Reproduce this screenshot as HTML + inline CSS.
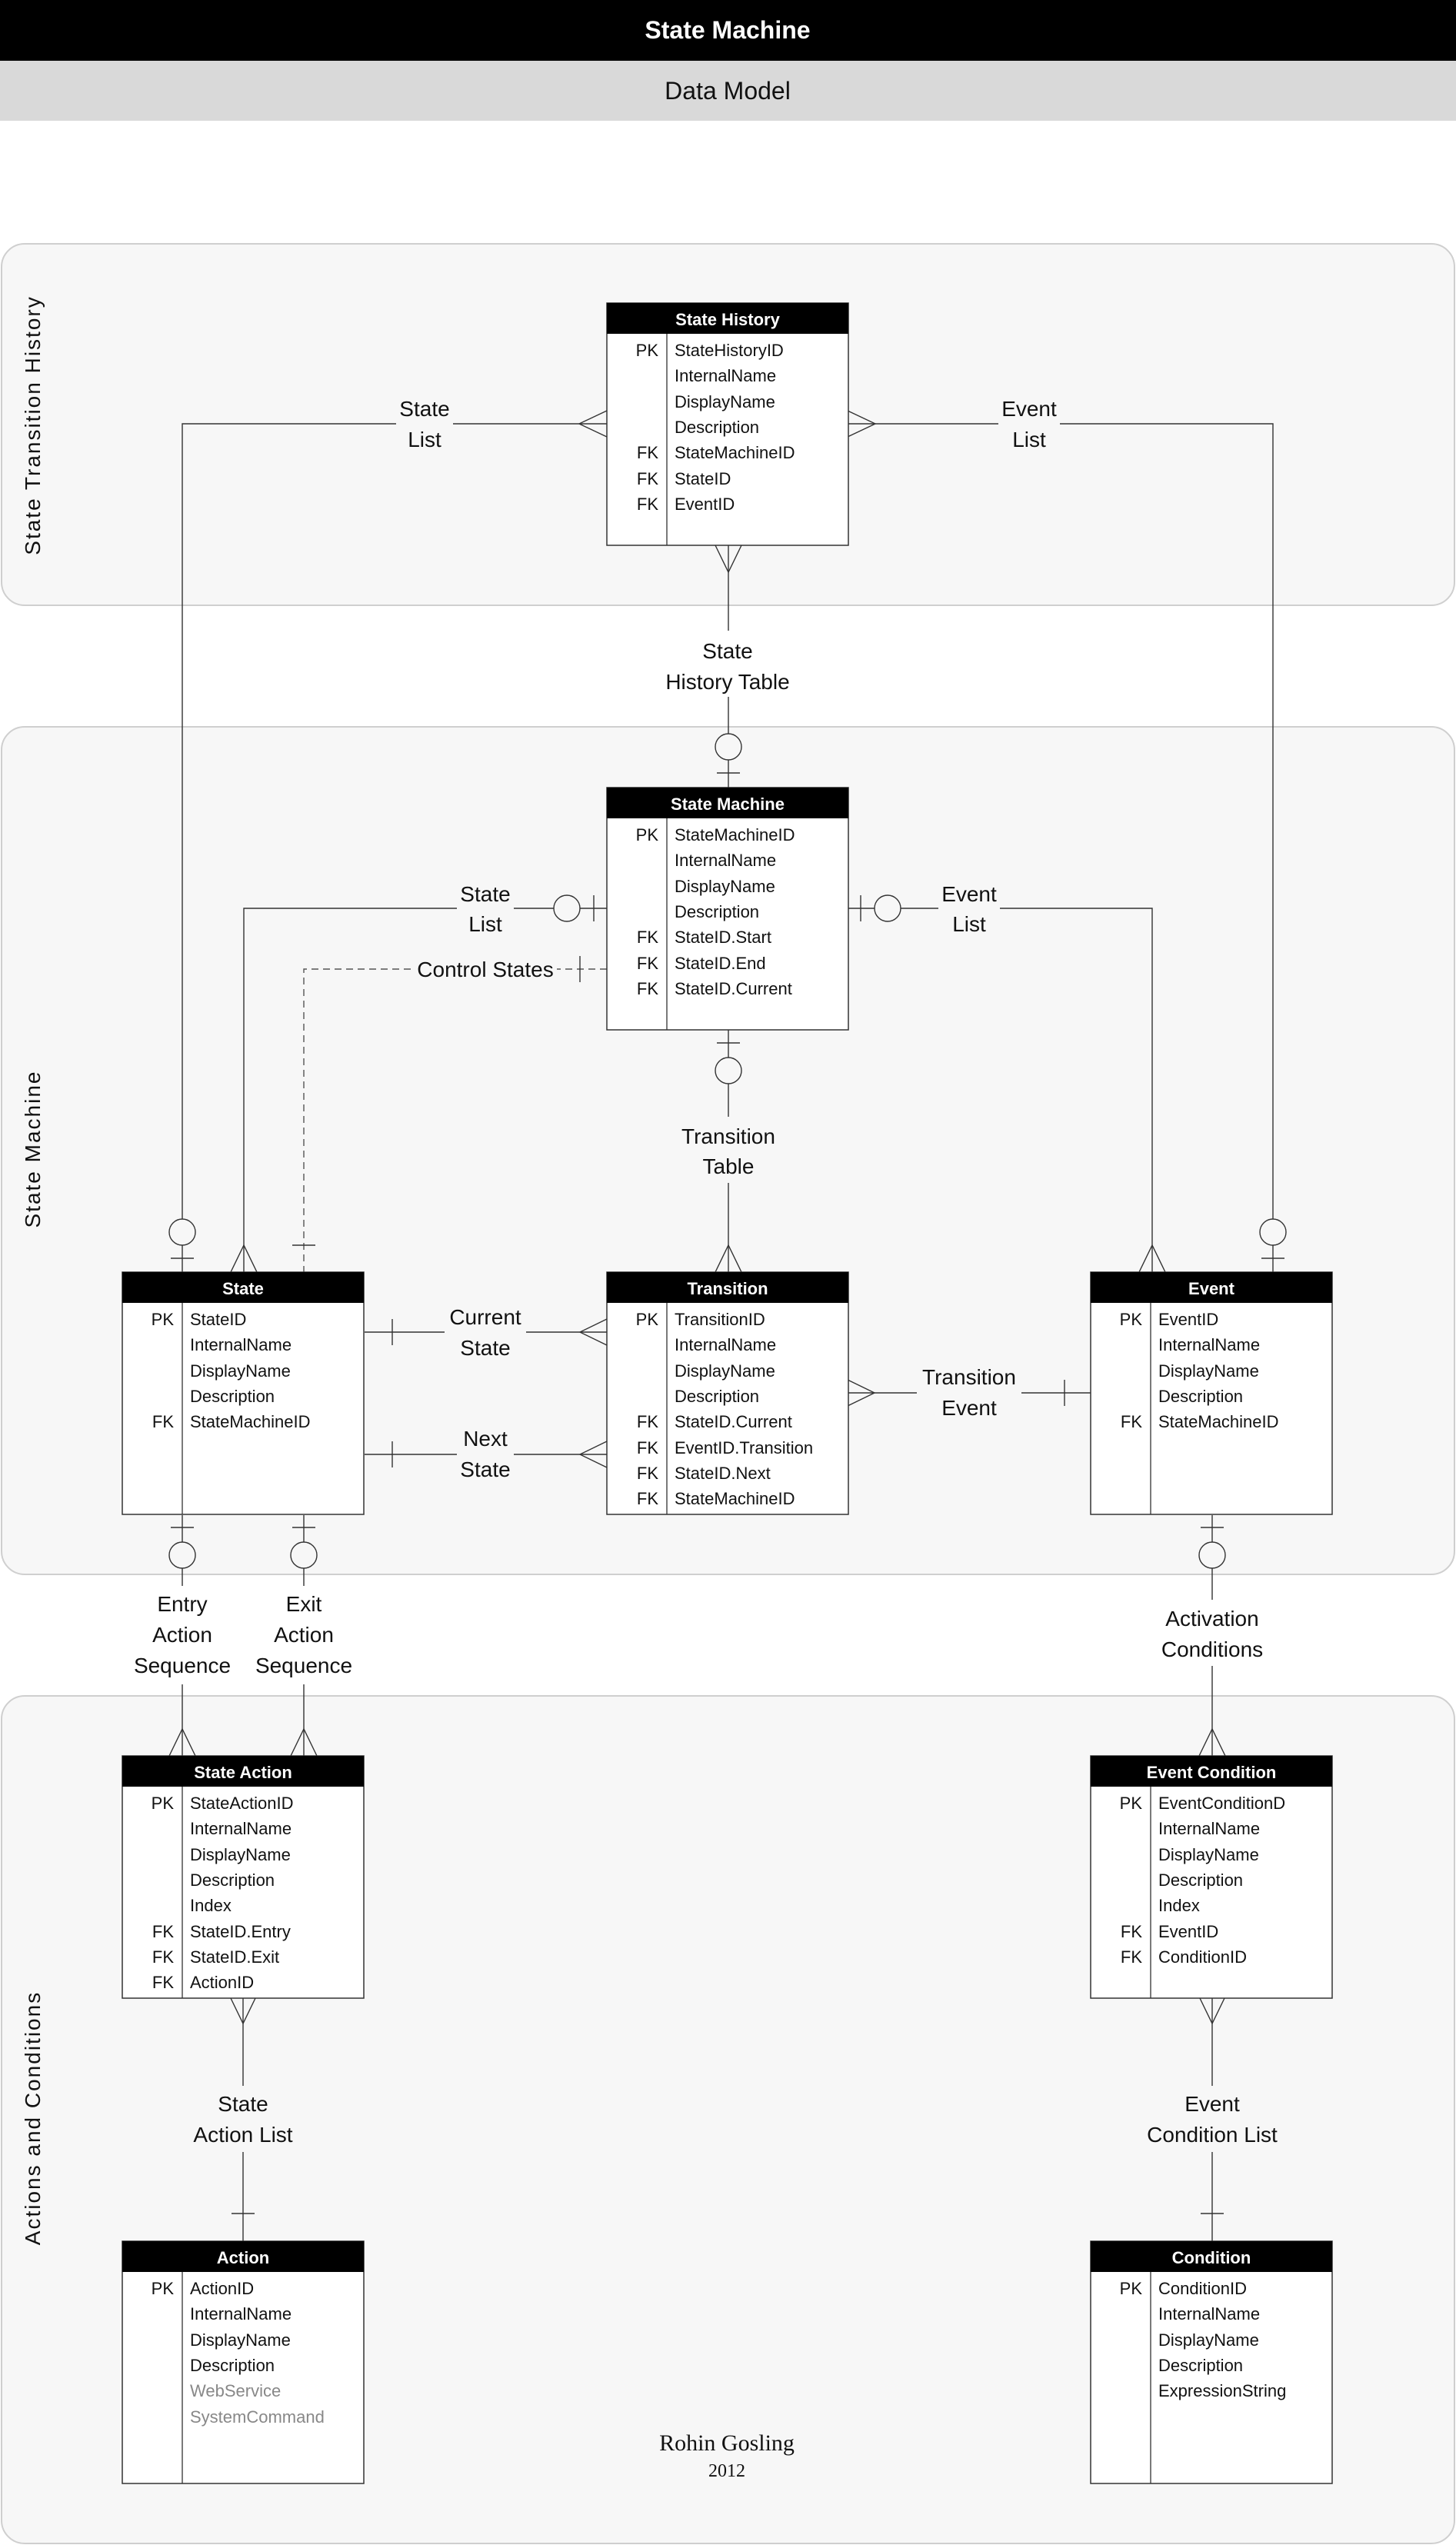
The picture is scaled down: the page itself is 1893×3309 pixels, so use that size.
<!DOCTYPE html>
<html><head><meta charset="utf-8"><style>
html,body{margin:0;padding:0;background:#fff}
svg{display:block}
text{font-family:"Liberation Sans",sans-serif}
text.serif{font-family:"Liberation Serif",serif}
</style></head><body>
<svg width="1893" height="3309" viewBox="0 0 1893 3309" xmlns="http://www.w3.org/2000/svg">
<rect x="0" y="0" width="1893" height="79" fill="#000"/>
<text x="946" y="50" font-size="32" font-weight="bold" fill="#fff" text-anchor="middle">State Machine</text>
<rect x="0" y="79" width="1893" height="78" fill="#d9d9d9"/>
<text x="946" y="129" font-size="32" fill="#111" text-anchor="middle">Data Model</text>

<rect x="2" y="317" width="1889" height="470" rx="30" fill="#f7f7f7" stroke="#cfcfcf" stroke-width="2"/>
<rect x="2" y="945" width="1889" height="1102" rx="30" fill="#f7f7f7" stroke="#cfcfcf" stroke-width="2"/>
<rect x="2" y="2205" width="1889" height="1102" rx="30" fill="#f7f7f7" stroke="#cfcfcf" stroke-width="2"/>

<g font-size="28" letter-spacing="2" fill="#111" text-anchor="middle">
<text transform="translate(52,553) rotate(-90)">State Transition History</text>
<text transform="translate(52,1494) rotate(-90)">State Machine</text>
<text transform="translate(52,2754) rotate(-90)">Actions and Conditions</text>
</g>

<g stroke="#333" stroke-width="1.4" fill="none">
<path d="M789,551 H237 V1654"/>
<path d="M789,534 L753,551 L789,568"/>
<circle cx="237" cy="1602" r="17" fill="#f7f7f7"/>
<path d="M222,1636 H252"/>
<path d="M1102,551 H1655 V1654"/>
<path d="M1102,534 L1138,551 L1102,568"/>
<circle cx="1655" cy="1602" r="17" fill="#f7f7f7"/>
<path d="M1640,1636 H1670"/>
<path d="M947,709 V1024"/>
<path d="M930,709 L947,744 L964,709"/>
<circle cx="947" cy="971" r="17" fill="#f7f7f7"/>
<path d="M932,1005 H962"/>
<path d="M789,1181 H317 V1654"/>
<path d="M772,1164 V1198"/>
<circle cx="737" cy="1181" r="17" fill="#f7f7f7"/>
<path d="M300,1654 L317,1619 L334,1654"/>
<path d="M789,1260 H395 V1654" stroke-dasharray="9,6" stroke="#555"/>
<path d="M754,1243 V1277"/>
<path d="M380,1619 H410"/>
<path d="M1102,1181 H1498 V1654"/>
<path d="M1119,1164 V1198"/>
<circle cx="1154" cy="1181" r="17" fill="#f7f7f7"/>
<path d="M1481,1654 L1498,1619 L1515,1654"/>
<path d="M947,1339 V1654"/>
<path d="M932,1356 H962"/>
<circle cx="947" cy="1392" r="17" fill="#f7f7f7"/>
<path d="M930,1654 L947,1619 L964,1654"/>
<path d="M474,1732 H789"/>
<path d="M510,1715 V1749"/>
<path d="M789,1715 L754,1732 L789,1749"/>
<path d="M474,1891 H789"/>
<path d="M510,1874 V1908"/>
<path d="M789,1874 L754,1891 L789,1908"/>
<path d="M1102,1811 H1418"/>
<path d="M1102,1794 L1137,1811 L1102,1828"/>
<path d="M1384,1794 V1828"/>
<path d="M237,1970 V2283"/>
<path d="M222,1986 H252"/>
<circle cx="237" cy="2022" r="17" fill="#f7f7f7"/>
<path d="M220,2283 L237,2248 L254,2283"/>
<path d="M395,1970 V2283"/>
<path d="M380,1986 H410"/>
<circle cx="395" cy="2022" r="17" fill="#f7f7f7"/>
<path d="M378,2283 L395,2248 L412,2283"/>
<path d="M1576,1970 V2283"/>
<path d="M1561,1986 H1591"/>
<circle cx="1576" cy="2022" r="17" fill="#f7f7f7"/>
<path d="M1559,2283 L1576,2248 L1593,2283"/>
<path d="M316,2596 V2914"/>
<path d="M299,2596 L316,2631 L333,2596"/>
<path d="M301,2878 H331"/>
<path d="M1576,2596 V2914"/>
<path d="M1559,2596 L1576,2631 L1593,2596"/>
<path d="M1561,2878 H1591"/>
</g>

<g font-size="28" fill="#111" text-anchor="middle">
<rect x="515" y="508" width="74" height="86" fill="#f7f7f7"/>
<text x="552" y="541">State</text><text x="552" y="581">List</text>
<rect x="1298" y="508" width="80" height="86" fill="#f7f7f7"/>
<text x="1338" y="541">Event</text><text x="1338" y="581">List</text>
<rect x="855" y="820" width="184" height="86" fill="#fff"/>
<text x="946" y="856">State</text><text x="946" y="896">History Table</text>
<rect x="594" y="1140" width="74" height="86" fill="#f7f7f7"/>
<text x="631" y="1172">State</text><text x="631" y="1211">List</text>
<rect x="538" y="1240" width="186" height="40" fill="#f7f7f7"/>
<text x="631" y="1270">Control States</text>
<rect x="1220" y="1140" width="80" height="86" fill="#f7f7f7"/>
<text x="1260" y="1172">Event</text><text x="1260" y="1211">List</text>
<rect x="880" y="1452" width="134" height="86" fill="#f7f7f7"/>
<text x="947" y="1487">Transition</text><text x="947" y="1526">Table</text>
<rect x="578" y="1690" width="106" height="86" fill="#f7f7f7"/>
<text x="631" y="1722">Current</text><text x="631" y="1762">State</text>
<rect x="594" y="1848" width="74" height="86" fill="#f7f7f7"/>
<text x="631" y="1880">Next</text><text x="631" y="1920">State</text>
<rect x="1192" y="1770" width="136" height="86" fill="#f7f7f7"/>
<text x="1260" y="1800">Transition</text><text x="1260" y="1840">Event</text>
<rect x="178" y="2062" width="270" height="128" fill="#fff"/>
<text x="237" y="2095">Entry</text><text x="237" y="2135">Action</text><text x="237" y="2175">Sequence</text>
<text x="395" y="2095">Exit</text><text x="395" y="2135">Action</text><text x="395" y="2175">Sequence</text>
<rect x="1504" y="2080" width="144" height="86" fill="#fff"/>
<text x="1576" y="2114">Activation</text><text x="1576" y="2154">Conditions</text>
<rect x="240" y="2712" width="152" height="86" fill="#f7f7f7"/>
<text x="316" y="2745">State</text><text x="316" y="2785">Action List</text>
<rect x="1480" y="2712" width="192" height="86" fill="#f7f7f7"/>
<text x="1576" y="2745">Event</text><text x="1576" y="2785">Condition List</text>
</g>

<defs>
<g id="tbl">
<rect x="0" y="0" width="314" height="315" fill="#fff" stroke="#333" stroke-width="1.5"/>
<rect x="0" y="0" width="314" height="40" fill="#000"/>
<line x1="78" y1="40" x2="78" y2="315" stroke="#333" stroke-width="1.3"/>
</g>
</defs>

<g font-size="22" fill="#111">
<g transform="translate(789,394)"><use href="#tbl"/>
<text x="157" y="29" fill="#fff" font-weight="bold" text-anchor="middle">State History</text>
<g text-anchor="end"><text x="67" y="69">PK</text><text x="67" y="202">FK</text><text x="67" y="236">FK</text><text x="67" y="269">FK</text></g>
<text x="88" y="69">StateHistoryID</text><text x="88" y="102">InternalName</text><text x="88" y="136">DisplayName</text><text x="88" y="169">Description</text><text x="88" y="202">StateMachineID</text><text x="88" y="236">StateID</text><text x="88" y="269">EventID</text>
</g>
<g transform="translate(789,1024)"><use href="#tbl"/>
<text x="157" y="29" fill="#fff" font-weight="bold" text-anchor="middle">State Machine</text>
<g text-anchor="end"><text x="67" y="69">PK</text><text x="67" y="202">FK</text><text x="67" y="236">FK</text><text x="67" y="269">FK</text></g>
<text x="88" y="69">StateMachineID</text><text x="88" y="102">InternalName</text><text x="88" y="136">DisplayName</text><text x="88" y="169">Description</text><text x="88" y="202">StateID.Start</text><text x="88" y="236">StateID.End</text><text x="88" y="269">StateID.Current</text>
</g>
<g transform="translate(159,1654)"><use href="#tbl"/>
<text x="157" y="29" fill="#fff" font-weight="bold" text-anchor="middle">State</text>
<g text-anchor="end"><text x="67" y="69">PK</text><text x="67" y="202">FK</text></g>
<text x="88" y="69">StateID</text><text x="88" y="102">InternalName</text><text x="88" y="136">DisplayName</text><text x="88" y="169">Description</text><text x="88" y="202">StateMachineID</text>
</g>
<g transform="translate(789,1654)"><use href="#tbl"/>
<text x="157" y="29" fill="#fff" font-weight="bold" text-anchor="middle">Transition</text>
<g text-anchor="end"><text x="67" y="69">PK</text><text x="67" y="202">FK</text><text x="67" y="236">FK</text><text x="67" y="269">FK</text><text x="67" y="302">FK</text></g>
<text x="88" y="69">TransitionID</text><text x="88" y="102">InternalName</text><text x="88" y="136">DisplayName</text><text x="88" y="169">Description</text><text x="88" y="202">StateID.Current</text><text x="88" y="236">EventID.Transition</text><text x="88" y="269">StateID.Next</text><text x="88" y="302">StateMachineID</text>
</g>
<g transform="translate(1418,1654)"><use href="#tbl"/>
<text x="157" y="29" fill="#fff" font-weight="bold" text-anchor="middle">Event</text>
<g text-anchor="end"><text x="67" y="69">PK</text><text x="67" y="202">FK</text></g>
<text x="88" y="69">EventID</text><text x="88" y="102">InternalName</text><text x="88" y="136">DisplayName</text><text x="88" y="169">Description</text><text x="88" y="202">StateMachineID</text>
</g>
<g transform="translate(159,2283)"><use href="#tbl"/>
<text x="157" y="29" fill="#fff" font-weight="bold" text-anchor="middle">State Action</text>
<g text-anchor="end"><text x="67" y="69">PK</text><text x="67" y="236">FK</text><text x="67" y="269">FK</text><text x="67" y="302">FK</text></g>
<text x="88" y="69">StateActionID</text><text x="88" y="102">InternalName</text><text x="88" y="136">DisplayName</text><text x="88" y="169">Description</text><text x="88" y="202">Index</text><text x="88" y="236">StateID.Entry</text><text x="88" y="269">StateID.Exit</text><text x="88" y="302">ActionID</text>
</g>
<g transform="translate(1418,2283)"><use href="#tbl"/>
<text x="157" y="29" fill="#fff" font-weight="bold" text-anchor="middle">Event Condition</text>
<g text-anchor="end"><text x="67" y="69">PK</text><text x="67" y="236">FK</text><text x="67" y="269">FK</text></g>
<text x="88" y="69">EventConditionD</text><text x="88" y="102">InternalName</text><text x="88" y="136">DisplayName</text><text x="88" y="169">Description</text><text x="88" y="202">Index</text><text x="88" y="236">EventID</text><text x="88" y="269">ConditionID</text>
</g>
<g transform="translate(159,2914)"><use href="#tbl"/>
<text x="157" y="29" fill="#fff" font-weight="bold" text-anchor="middle">Action</text>
<text x="67" y="69" text-anchor="end">PK</text>
<text x="88" y="69">ActionID</text><text x="88" y="102">InternalName</text><text x="88" y="136">DisplayName</text><text x="88" y="169">Description</text><text x="88" y="202" fill="#888">WebService</text><text x="88" y="236" fill="#888">SystemCommand</text>
</g>
<g transform="translate(1418,2914)"><use href="#tbl"/>
<text x="157" y="29" fill="#fff" font-weight="bold" text-anchor="middle">Condition</text>
<text x="67" y="69" text-anchor="end">PK</text>
<text x="88" y="69">ConditionID</text><text x="88" y="102">InternalName</text><text x="88" y="136">DisplayName</text><text x="88" y="169">Description</text><text x="88" y="202">ExpressionString</text>
</g>
</g>

<text class="serif" x="945" y="3186" style="font-family:'Liberation Serif',serif" font-size="30" fill="#111" text-anchor="middle">Rohin Gosling</text>
<text class="serif" x="945" y="3220" style="font-family:'Liberation Serif',serif" font-size="24" fill="#111" text-anchor="middle">2012</text>
</svg>
</body></html>
